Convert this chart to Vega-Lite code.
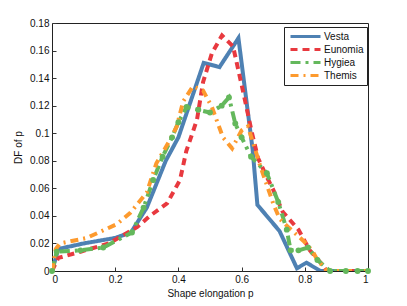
{
  "$schema": "https://vega.github.io/schema/vega-lite/v6.json",
  "width": 316,
  "height": 248,
  "autosize": {"type": "none"},
  "padding": {"left": 52, "top": 23, "right": 39, "bottom": 35},
  "background": "white",
  "config": {
    "view": {"stroke": "#222", "strokeWidth": 1},
    "font": "Liberation Sans",
    "axis": {"grid": false, "domain": false, "tickColor": "#333", "tickSize": -4, "labelFontSize": 10, "labelColor": "#111", "titleFontSize": 10, "titleFontWeight": "normal", "titleColor": "#111", "labelPadding": 7, "labelOverlap": false}
  },
  "data": {"values": [
    {"s":"Vesta","p":0,"d":0},{"s":"Vesta","p":0.02,"d":0.016},{"s":"Vesta","p":0.1,"d":0.02},{"s":"Vesta","p":0.2,"d":0.024},{"s":"Vesta","p":0.25,"d":0.028},{"s":"Vesta","p":0.3,"d":0.046},{"s":"Vesta","p":0.36,"d":0.08},{"s":"Vesta","p":0.4,"d":0.097},{"s":"Vesta","p":0.44,"d":0.124},{"s":"Vesta","p":0.48,"d":0.151},{"s":"Vesta","p":0.53,"d":0.148},{"s":"Vesta","p":0.59,"d":0.169},{"s":"Vesta","p":0.635,"d":0.088},{"s":"Vesta","p":0.65,"d":0.048},{"s":"Vesta","p":0.72,"d":0.029},{"s":"Vesta","p":0.775,"d":0.002},{"s":"Vesta","p":0.805,"d":0.006},{"s":"Vesta","p":0.85,"d":0},{"s":"Vesta","p":1,"d":0},
    {"s":"Eunomia","p":0,"d":0},{"s":"Eunomia","p":0.02,"d":0.0095},{"s":"Eunomia","p":0.09,"d":0.014},{"s":"Eunomia","p":0.18,"d":0.02},{"s":"Eunomia","p":0.27,"d":0.032},{"s":"Eunomia","p":0.31,"d":0.04},{"s":"Eunomia","p":0.364,"d":0.049},{"s":"Eunomia","p":0.405,"d":0.066},{"s":"Eunomia","p":0.425,"d":0.087},{"s":"Eunomia","p":0.459,"d":0.11},{"s":"Eunomia","p":0.478,"d":0.137},{"s":"Eunomia","p":0.506,"d":0.158},{"s":"Eunomia","p":0.538,"d":0.171},{"s":"Eunomia","p":0.573,"d":0.163},{"s":"Eunomia","p":0.604,"d":0.131},{"s":"Eunomia","p":0.633,"d":0.1},{"s":"Eunomia","p":0.652,"d":0.082},{"s":"Eunomia","p":0.674,"d":0.071},{"s":"Eunomia","p":0.7,"d":0.059},{"s":"Eunomia","p":0.73,"d":0.043},{"s":"Eunomia","p":0.78,"d":0.03},{"s":"Eunomia","p":0.816,"d":0.015},{"s":"Eunomia","p":0.85,"d":0.006},{"s":"Eunomia","p":0.87,"d":0},{"s":"Eunomia","p":1,"d":0},
    {"s":"Hygiea","p":0,"d":0},{"s":"Hygiea","p":0.015,"d":0.014},{"s":"Hygiea","p":0.09,"d":0.015},{"s":"Hygiea","p":0.162,"d":0.017},{"s":"Hygiea","p":0.253,"d":0.028},{"s":"Hygiea","p":0.29,"d":0.046},{"s":"Hygiea","p":0.32,"d":0.066},{"s":"Hygiea","p":0.35,"d":0.083},{"s":"Hygiea","p":0.38,"d":0.097},{"s":"Hygiea","p":0.4,"d":0.108},{"s":"Hygiea","p":0.426,"d":0.119},{"s":"Hygiea","p":0.463,"d":0.117},{"s":"Hygiea","p":0.5,"d":0.115},{"s":"Hygiea","p":0.537,"d":0.12},{"s":"Hygiea","p":0.56,"d":0.126},{"s":"Hygiea","p":0.58,"d":0.107},{"s":"Hygiea","p":0.6,"d":0.097},{"s":"Hygiea","p":0.63,"d":0.083},{"s":"Hygiea","p":0.68,"d":0.071},{"s":"Hygiea","p":0.716,"d":0.05},{"s":"Hygiea","p":0.743,"d":0.03},{"s":"Hygiea","p":0.755,"d":0.015},{"s":"Hygiea","p":0.78,"d":0.015},{"s":"Hygiea","p":0.81,"d":0.017},{"s":"Hygiea","p":0.84,"d":0.008},{"s":"Hygiea","p":0.88,"d":0},{"s":"Hygiea","p":0.93,"d":0},{"s":"Hygiea","p":0.967,"d":0},{"s":"Hygiea","p":1,"d":0},
    {"s":"Themis","p":0,"d":0},{"s":"Themis","p":0.012,"d":0.016},{"s":"Themis","p":0.025,"d":0.02},{"s":"Themis","p":0.11,"d":0.024},{"s":"Themis","p":0.205,"d":0.034},{"s":"Themis","p":0.247,"d":0.042},{"s":"Themis","p":0.3,"d":0.057},{"s":"Themis","p":0.33,"d":0.078},{"s":"Themis","p":0.373,"d":0.095},{"s":"Themis","p":0.395,"d":0.105},{"s":"Themis","p":0.415,"d":0.123},{"s":"Themis","p":0.446,"d":0.134},{"s":"Themis","p":0.478,"d":0.131},{"s":"Themis","p":0.506,"d":0.119},{"s":"Themis","p":0.525,"d":0.107},{"s":"Themis","p":0.541,"d":0.097},{"s":"Themis","p":0.57,"d":0.089},{"s":"Themis","p":0.6,"d":0.102},{"s":"Themis","p":0.62,"d":0.105},{"s":"Themis","p":0.658,"d":0.077},{"s":"Themis","p":0.7,"d":0.049},{"s":"Themis","p":0.72,"d":0.038},{"s":"Themis","p":0.747,"d":0.032},{"s":"Themis","p":0.795,"d":0.022},{"s":"Themis","p":0.823,"d":0.015},{"s":"Themis","p":0.84,"d":0.008},{"s":"Themis","p":0.87,"d":0},{"s":"Themis","p":1,"d":0}
  ]},
  "layer": [
    {
      "mark": {"type": "line", "strokeWidth": 4, "clip": true},
      "encoding": {
        "x": {"field": "p", "type": "quantitative", "scale": {"domain": [0, 1], "nice": false}, "axis": {"title": "Shape elongation p", "values": [0, 0.2, 0.4, 0.6, 0.8, 1], "tickCount": 20, "format": "~g", "titlePadding": 4, "labelOverlap": false}},
        "y": {"field": "d", "type": "quantitative", "scale": {"domain": [0, 0.18], "nice": false}, "axis": {"title": "DF of p", "values": [0, 0.02, 0.04, 0.06, 0.08, 0.1, 0.12, 0.14, 0.16, 0.18], "tickCount": 20, "format": "~g", "titlePadding": 6, "labelOverlap": false}},
        "color": {"field": "s", "type": "nominal", "scale": {"domain": ["Vesta", "Eunomia", "Hygiea", "Themis"], "range": ["#4e81b3", "#e8393f", "#64b85c", "#fd9a2e"]}, "legend": {"title": null, "orient": "none", "legendX": 232, "legendY": 4, "symbolType": "M-3,0H3", "symbolSize": 100, "symbolStrokeWidth": 3, "symbolOffset": 12, "labelFontSize": 10, "labelColor": "#111", "fillColor": "white", "strokeColor": "#222", "padding": 3, "rowPadding": 0, "labelOffset": 12}},
        "strokeDash": {"field": "s", "type": "nominal", "scale": {"domain": ["Vesta", "Eunomia", "Hygiea", "Themis"], "range": [[1, 0], [7, 5], [10, 5, 3, 5], [8, 5, 2, 5]]}, "legend": null},
        "order": {"field": "p", "type": "quantitative"}
      }
    },
    {
      "transform": [{"filter": "datum.s === 'Hygiea'"}],
      "mark": {"type": "point", "filled": true, "size": 35, "opacity": 1, "color": "#64b85c"},
      "encoding": {
        "x": {"field": "p", "type": "quantitative"},
        "y": {"field": "d", "type": "quantitative"}
      }
    }
  ]
}
